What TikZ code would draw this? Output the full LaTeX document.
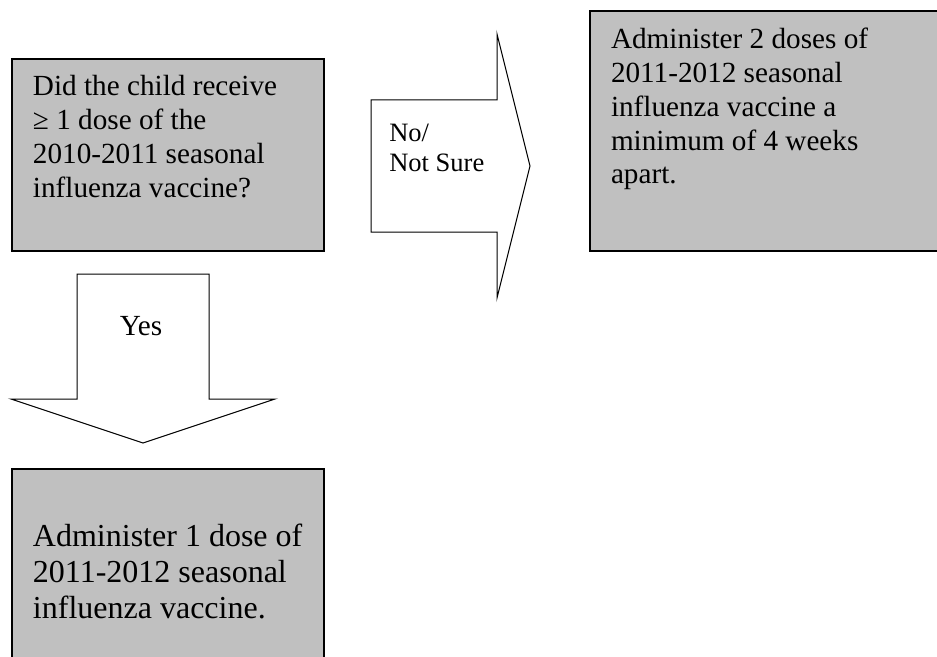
\documentclass[tikz,border=0pt]{standalone}
\usepackage{fontspec}
\setmainfont{Liberation Serif}
\usepackage{xcolor}
\usepackage{tikz}
\usetikzlibrary{positioning}
\definecolor{boxgray}{HTML}{C0C0C0}
\newcommand{\boxtext}[2]{\hspace*{15.75pt}\parbox[t]{#1}{\raggedright #2}}

\begin{document}
\begin{tikzpicture}[
  x=0.75pt, y=-0.75pt,
  box/.style={draw, line width=1.5pt, fill=boxgray, inner sep=0pt, anchor=north west},
  blockarr/.style={draw, line width=0.75pt, fill=white, line join=miter},
  lbl/.style={inner sep=0pt, anchor=base west}
]
  \useasboundingbox (0,0) rectangle (937,656);
  % Boxes
  \node[box, font=\fontsize{21.9}{25.5}\selectfont, text height=27.75pt, text depth=116.25pt]
    (ask) at (11,58) {\boxtext{218.25pt}{Did the child receive\\ ≥ 1 dose of the\\ 2010-2011 seasonal\\ influenza vaccine?}};
  \node[box, font=\fontsize{21.9}{25.3}\selectfont, text height=28.5pt, text depth=151.5pt,
    right=198pt of ask.north east, anchor=north west, yshift=36pt]
    (two) {\boxtext{246pt}{Administer 2 doses of\\ 2011-2012 seasonal\\ influenza vaccine a\\ minimum of 4 weeks\\ apart.}};
  \node[box, font=\fontsize{24}{27}\selectfont, text height=57.75pt, text depth=86.25pt,
    below=162pt of ask.south west, anchor=north west]
    (one) {\boxtext{218.25pt}{Administer 1 dose of\\ 2011-2012 seasonal\\ influenza vaccine.}};
  % Arrows
  \draw[blockarr] (371,100) -- (497,100) -- (497,34) -- (530,166) -- (497,298) -- (497,232) -- (371,232) -- cycle;
  \node[lbl, font=\fontsize{19.9}{22.5}\selectfont] (no) at (389,142) {\parbox[t]{3cm}{No/\\Not Sure}};
  \draw[blockarr] (77,274) -- (209,274) -- (209,399) -- (275,399) -- (143,443) -- (11,399) -- (77,399) -- cycle;
  \node[lbl, anchor=base, font=\fontsize{21.9}{25.5}\selectfont] (yes) at (141,335) {Yes};
\end{tikzpicture}
\end{document}
